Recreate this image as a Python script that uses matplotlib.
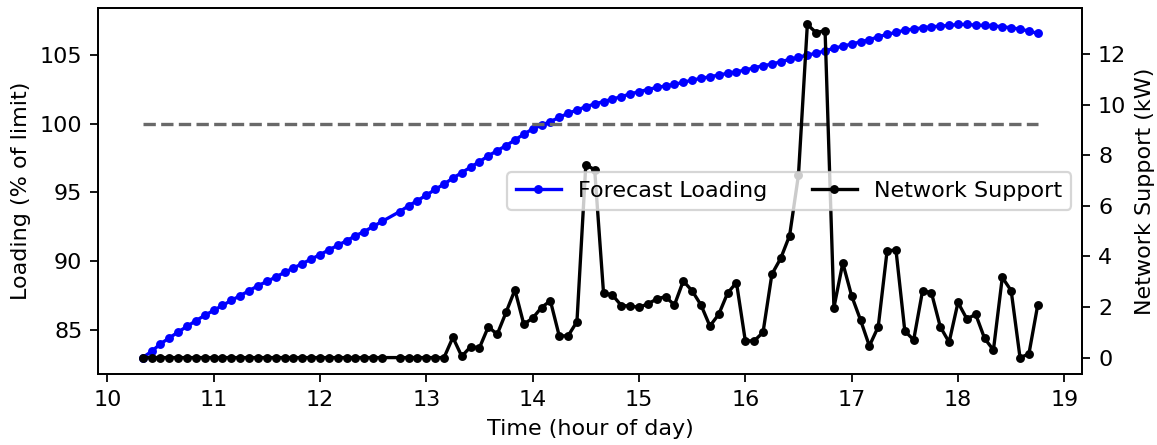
import matplotlib
matplotlib.use("Agg")
import matplotlib.pyplot as plt
from matplotlib.ticker import MultipleLocator

times = [
    "10:20", "10:25", "10:30", "10:35", "10:40", "10:45", "10:50", "10:55",
    "11:00", "11:05", "11:10", "11:15", "11:20", "11:25", "11:30", "11:35",
    "11:40", "11:45", "11:50", "11:55", "12:00", "12:05", "12:10", "12:15",
    "12:20", "12:25", "12:30", "12:35", "12:45", "12:50", "12:55",
    "13:00", "13:05", "13:10", "13:15", "13:20", "13:25", "13:30", "13:35",
    "13:40", "13:45", "13:50", "13:55", "14:00", "14:05", "14:10", "14:15",
    "14:20", "14:25", "14:30", "14:35", "14:40", "14:45", "14:50", "14:55",
    "15:00", "15:05", "15:10", "15:15", "15:20", "15:25", "15:30", "15:35",
    "15:40", "15:45", "15:50", "15:55", "16:00", "16:05", "16:10", "16:15",
    "16:20", "16:25", "16:30", "16:35", "16:40", "16:45", "16:50", "16:55",
    "17:00", "17:05", "17:10", "17:15", "17:20", "17:25", "17:30", "17:35",
    "17:40", "17:45", "17:50", "17:55", "18:00", "18:05", "18:10", "18:15",
    "18:20", "18:25", "18:30", "18:35", "18:40", "18:45",
]

forecast_loading = [
    83.00, 83.45, 84.00, 84.43, 84.86, 85.27, 85.68, 86.07,
    86.43, 86.79, 87.16, 87.50, 87.86, 88.22, 88.53, 88.85,
    89.19, 89.51, 89.82, 90.16, 90.47, 90.83, 91.15, 91.49,
    91.85, 92.16, 92.53, 92.89, 93.61, 94.03, 94.41,
    94.80, 95.22, 95.61, 96.04, 96.44, 96.84, 97.24, 97.66,
    98.04, 98.40, 98.82, 99.23, 99.62, 99.88, 100.15, 100.46,
    100.75, 100.99, 101.23, 101.43, 101.60, 101.79, 101.96, 102.16,
    102.32, 102.48, 102.63, 102.74, 102.86, 103.00, 103.17, 103.29,
    103.41, 103.53, 103.66, 103.77, 103.90, 104.06, 104.21, 104.33,
    104.50, 104.67, 104.82, 104.99, 105.11, 105.30, 105.47, 105.64,
    105.78, 105.95, 106.10, 106.31, 106.49, 106.63, 106.80, 106.87,
    106.97, 107.04, 107.09, 107.14, 107.21, 107.21, 107.16, 107.14,
    107.11, 107.04, 106.97, 106.87, 106.73, 106.56,
]

network_support = [
    0, 0, 0, 0, 0, 0, 0, 0,
    0, 0, 0, 0, 0, 0, 0, 0,
    0, 0, 0, 0, 0, 0, 0, 0,
    0, 0, 0, 0, 0, 0, 0,
    0, 0, 0, 0.80, 0.05, 0.43, 0.39, 1.22,
    0.92, 1.79, 2.68, 1.32, 1.56, 1.98, 2.25, 0.86,
    0.86, 1.42, 7.63, 7.43, 2.55, 2.48, 2.06, 2.04,
    1.99, 2.12, 2.32, 2.41, 2.08, 3.03, 2.64, 2.08,
    1.25, 1.71, 2.55, 2.97, 0.66, 0.66, 1.00, 3.30,
    3.93, 4.83, 7.23, 13.18, 12.85, 12.94, 1.98, 3.74,
    2.44, 1.49, 0.46, 1.22, 4.22, 4.26, 1.05, 0.70,
    2.64, 2.57, 1.22, 0.61, 2.18, 1.53, 1.71, 0.76,
    0.30, 3.17, 2.65, 0.00, 0.14, 2.08,
]

limit_pct = 100

hours = [int(t.split(":")[0]) + int(t.split(":")[1]) / 60 for t in times]

DPI = 160
plt.rcParams["font.size"] = 10
fig = plt.figure(figsize=(1157 / DPI, 445 / DPI), dpi=DPI)
ax1 = fig.add_subplot(111)
fig.subplots_adjust(left=0.0847, right=0.9356, bottom=0.159, top=0.9825)

l1, = ax1.plot(hours, forecast_loading, "b.-", label="Forecast Loading")
ax1.plot(hours, [limit_pct] * len(hours), "--", color="dimgray")
ax1.set_xlabel("Time (hour of day)")
ax1.set_ylabel("Loading (% of limit)")
ax1.xaxis.set_major_locator(MultipleLocator(1))

ax2 = ax1.twinx()
l2, = ax2.plot(hours, network_support, "k.-", label="Network Support")
ax2.set_ylabel("Network Support (kW)")

ax2.legend(handles=[l1, l2], loc="center right", ncol=2)

fig.savefig("out.png", dpi=DPI)
